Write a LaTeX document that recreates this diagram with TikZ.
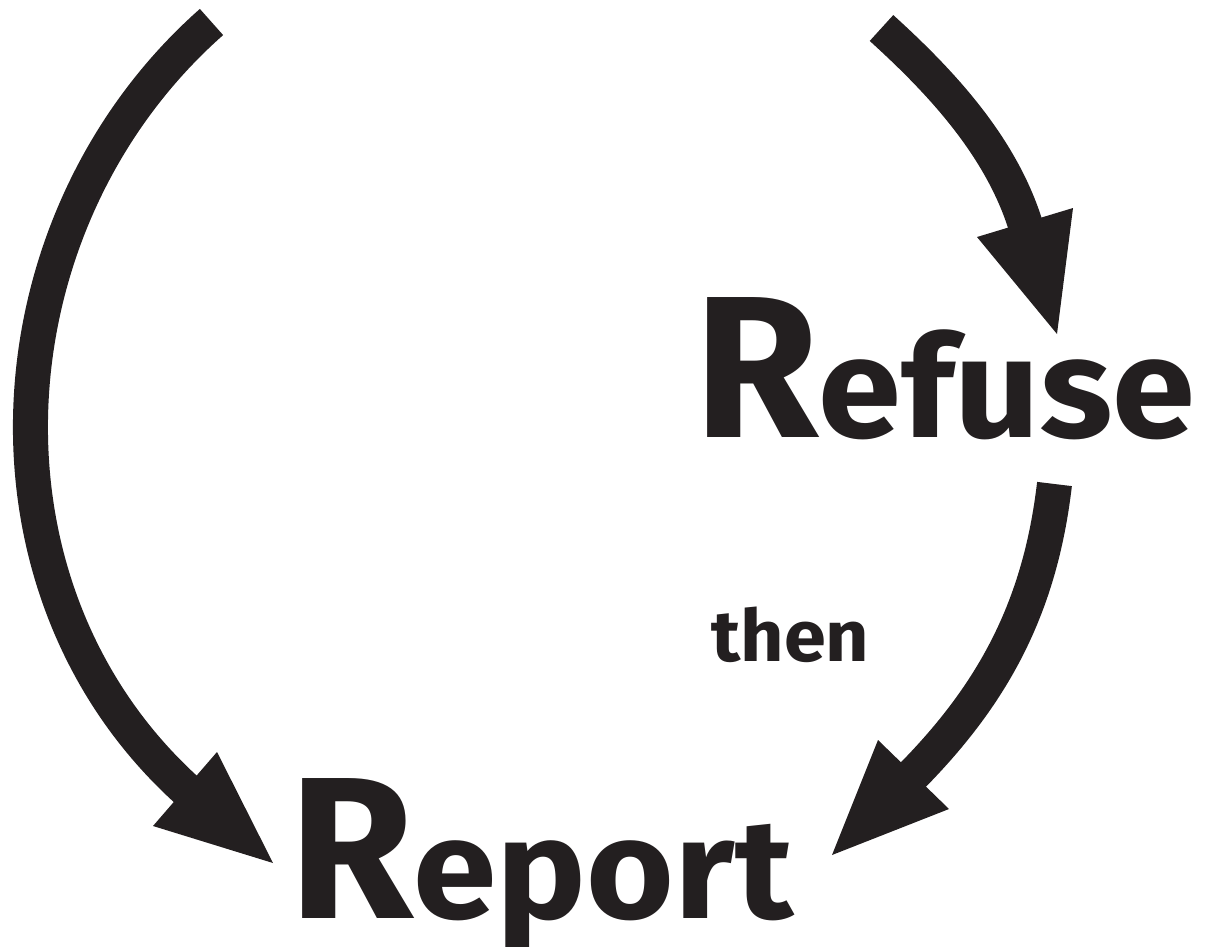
\documentclass[tikz,border=0pt]{standalone}
\usepackage{fontspec}
\setmainfont{Fira Sans}
\definecolor{ink}{HTML}{231F20}
\begin{document}
\begin{tikzpicture}[x=1pt,y=-1pt,
  shaft/.style={draw=ink,line width=35pt,line cap=butt},
  head/.style={fill=ink,draw=none},
  word/.style={inner sep=0pt,anchor=base west,text=ink,font=\bfseries}]
\useasboundingbox (0,0) rectangle (1208,946);
% words
\node[word] (refuse) at (694,437) {\fontsize{202}{202}\selectfont R\scalebox{1.054}[1]{\fontsize{142}{142}\selectfont efuse}};
\node[word] (then) at (711,661) {\scalebox{1.05}[1]{\fontsize{72}{72}\selectfont then}};
\node[word] (report) at (289,918) {\fontsize{202}{202}\selectfont R\scalebox{1.06}[1]{\fontsize{142}{142}\selectfont eport}};
% arrow coordinates
\coordinate (a1s) at (211.5,22);
\coordinate (a1e) at (191,794);
\coordinate (a1b1) at (153,826);
\coordinate (a1b2) at (217,752);
\coordinate (a1t) at (273,863);
\coordinate (a2s) at (881.5,28);
\coordinate (a2e) at (1027,230);
\coordinate (a2b1) at (977,237);
\coordinate (a2b2) at (1073,208);
\coordinate (a2t) at (1057,334);
\coordinate (a3s) at (1054.5,484);
\coordinate (a3e) at (908,780);
\coordinate (a3b1) at (878,740);
\coordinate (a3b2) at (949,809);
\coordinate (a3t) at (832,855);
% shafts
\draw[shaft] (a1s) .. controls (-15,222) and (-37,592) .. (a1e);
\draw[shaft] (a2s) .. controls (941,82) and (1003,148) .. (a2e);
\draw[shaft] (a3s) .. controls (1040,608) and (993,695) .. (a3e);
% heads
\fill[head] (a1b1) -- (a1t) -- (a1b2) -- cycle;
\fill[head] (a2b1) -- (a2t) -- (a2b2) -- cycle;
\fill[head] (a3b1) -- (a3t) -- (a3b2) -- cycle;
\end{tikzpicture}
\end{document}
